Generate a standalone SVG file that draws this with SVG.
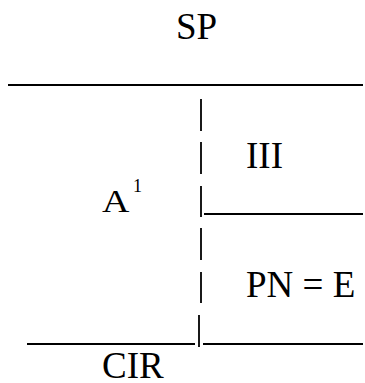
<svg xmlns="http://www.w3.org/2000/svg" width="365" height="383" viewBox="0 0 365 383">
  <style>
    text { font-family: "Liberation Serif", "Times New Roman", serif; fill: #000; }
    .t { font-size: 37px; }
    .big { font-size: 38px; }
    .sup { font-size: 18px; }
    .rule { stroke: #000; stroke-width: 1.8; fill: none; }
    .bar { stroke: #000; stroke-width: 1.8; fill: none; }
  </style>
  <rect width="365" height="383" fill="#fff"/>
  <g id="connectors">
    <line class="rule" x1="8" y1="85" x2="363" y2="85"/>
    <line class="bar" x1="201" y1="99" x2="201" y2="131"/>
    <line class="bar" x1="201" y1="142" x2="201" y2="174"/>
    <line class="bar" x1="201" y1="186" x2="201" y2="217"/>
    <line class="rule" x1="204" y1="214" x2="363" y2="214"/>
    <line class="bar" x1="201" y1="228" x2="201" y2="260"/>
    <line class="bar" x1="201" y1="272" x2="201" y2="303"/>
    <line class="bar" x1="199" y1="315" x2="199" y2="347"/>
    <line class="rule" x1="27" y1="344" x2="195" y2="344"/>
    <line class="rule" x1="203" y1="344" x2="363" y2="344"/>
  </g>
  <g id="sp"><text class="t" x="176" y="39">SP</text></g>
  <g id="iii"><text class="t" x="246" y="168">III</text></g>
  <g id="a1">
    <text class="big" transform="translate(102,212) scale(1,0.85)">A</text>
    <text class="sup" x="133" y="192">1</text>
  </g>
  <g id="pne"><text class="t" x="246" y="297">PN = E</text></g>
  <g id="cir"><text class="t" x="102" y="378">CIR</text></g>
</svg>
